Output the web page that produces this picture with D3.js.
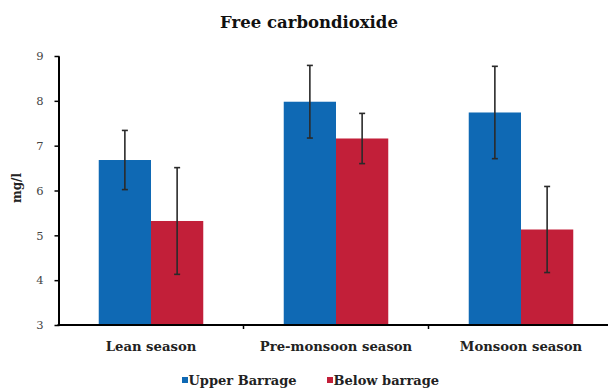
<!DOCTYPE html>
<html>
<head>
<meta charset="utf-8">
<script src="https://cdn.jsdelivr.net/npm/d3@7"></script>
<style>
  html, body { margin: 0; padding: 0; background: #fff; }
  svg { display: block; font-family: "DejaVu Serif", "Liberation Serif", serif; }
</style>
</head>
<body>
<svg id="chart" width="608" height="392"></svg>
<script>
// Free CO2 by season, upstream and downstream of the barrage
const seasons = ["Lean season", "Pre-monsoon season", "Monsoon season"];
const seriesNames = ["Upper Barrage", "Below barrage"];
const upperMean = [6.68, 7.98, 7.74];
const upperErr  = [0.66, 0.81, 1.03];
const belowMean = [5.32, 7.16, 5.13];
const belowErr  = [1.19, 0.56, 0.96];
const yTicks = [3, 4, 5, 6, 7, 8, 9];
const colors = ["#0f69b4", "#c21f39"];

const rows = seasons.map((s, i) => ({
  season: s,
  values: [
    { key: seriesNames[0], mean: upperMean[i], err: upperErr[i] },
    { key: seriesNames[1], mean: belowMean[i], err: belowErr[i] }
  ]
}));

const svg = d3.select("#chart");
const plotLeft = 58.5, plotRight = 613.5, plotTop = 56, plotBottom = 325;

const x0 = d3.scaleBand().domain(seasons).range([plotLeft, plotRight]).paddingInner(0).paddingOuter(0);
const groupW = x0.bandwidth() * 0.565;
const x1 = d3.scaleBand().domain(seriesNames).range([0, groupW]);
const y = d3.scaleLinear().domain([3, 9]).range([plotBottom, plotTop]);
const color = d3.scaleOrdinal().domain(seriesNames).range(colors);

// Title
svg.append("text")
  .attr("x", 309).attr("y", 28)
  .attr("text-anchor", "middle")
  .attr("font-weight", "bold")
  .attr("font-size", 16.5)
  .attr("fill", "#111")
  .text("Free carbondioxide");

// Bars
const groups = svg.append("g").selectAll("g").data(rows).join("g")
  .attr("transform", d => `translate(${x0(d.season) + (x0.bandwidth() - groupW) / 2},0)`);

groups.selectAll("rect").data(d => d.values).join("rect")
  .attr("x", d => x1(d.key))
  .attr("width", x1.bandwidth())
  .attr("y", d => y(d.mean))
  .attr("height", d => y(3) - y(d.mean))
  .attr("fill", d => color(d.key));

// Error bars
const eb = groups.selectAll("g.err").data(d => d.values).join("g").attr("class", "err")
  .attr("transform", d => `translate(${x1(d.key) + x1.bandwidth() / 2},0)`)
  .attr("stroke", "#2a2a2a").attr("stroke-width", 1.6);
eb.append("line").attr("y1", d => y(d.mean + d.err)).attr("y2", d => y(d.mean - d.err));
eb.append("line").attr("x1", -3).attr("x2", 3).attr("y1", d => y(d.mean + d.err)).attr("y2", d => y(d.mean + d.err));
eb.append("line").attr("x1", -3).attr("x2", 3).attr("y1", d => y(d.mean - d.err)).attr("y2", d => y(d.mean - d.err));

// Y axis
const yAxis = d3.axisLeft(y).tickValues(yTicks).tickFormat(d3.format("d"))
  .tickSize(4).tickPadding(11).tickSizeOuter(0);
const gy = svg.append("g").attr("transform", `translate(${plotLeft},0)`).call(yAxis);
gy.select(".domain").attr("stroke", "#000").attr("stroke-width", 2);
gy.selectAll(".tick line").attr("stroke", "#000").attr("stroke-width", 1.5).attr("x2", -4).attr("x1", 1);
gy.selectAll(".tick text").attr("font-size", 11.5).attr("fill", "#444")
  .attr("font-family", "DejaVu Serif, serif");

// X axis with ticks at category boundaries
svg.append("line")
  .attr("x1", plotLeft - 1).attr("x2", 608).attr("y1", plotBottom).attr("y2", plotBottom)
  .attr("stroke", "#000").attr("stroke-width", 2);
const boundaries = seasons.slice(1).map(s => x0(s));
svg.append("g").selectAll("line").data(boundaries).join("line")
  .attr("x1", d => d).attr("x2", d => d)
  .attr("y1", plotBottom).attr("y2", plotBottom + 4)
  .attr("stroke", "#000").attr("stroke-width", 1.5);

svg.append("g").selectAll("text").data(seasons).join("text")
  .attr("x", d => x0(d) + x0.bandwidth() / 2)
  .attr("y", plotBottom + 26)
  .attr("text-anchor", "middle")
  .attr("font-size", 13.2)
  .attr("font-weight", "bold")
  .attr("fill", "#222")
  .text(d => d);

// Y axis title
svg.append("text")
  .attr("transform", `translate(21,188) rotate(-90)`)
  .attr("text-anchor", "middle")
  .attr("font-size", 12)
  .attr("font-weight", "bold")
  .attr("fill", "#222")
  .text("mg/l");

// Legend
const legendX = [182, 327];
const legend = svg.append("g").selectAll("g").data(seriesNames).join("g")
  .attr("transform", (d, i) => `translate(${legendX[i]},385)`);
legend.append("rect").attr("x", 0).attr("y", -8).attr("width", 6).attr("height", 6)
  .attr("fill", d => color(d));
legend.append("text").attr("x", 6.5).attr("y", 0)
  .attr("font-size", 13).attr("font-weight", "bold").attr("fill", "#222")
  .text(d => d);
</script>
</body>
</html>
